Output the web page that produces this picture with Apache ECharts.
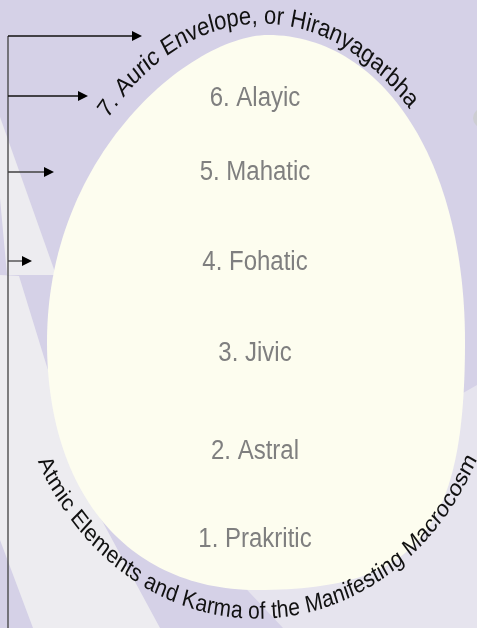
<!DOCTYPE html>
<html>
<head>
<meta charset="utf-8">
<script src="https://cdn.jsdelivr.net/npm/echarts@6/dist/echarts.min.js"></script>
<style>
  html, body { margin: 0; padding: 0; background: #d5d1e7; }
  #canvas { width: 477px; height: 628px; }
</style>
</head>
<body>
<div id="canvas"></div>
<script>
// layers of the egg, top to bottom
const layerLabels = ['6. Alayic', '5. Mahatic', '4. Fohatic', '3. Jivic', '2. Astral', '1. Prakritic'];
const outerLabel = '7. Auric Envelope, or Hiranyagarbha';
const baseLabel = 'Atmic Elements and Karma of the Manifesting Macrocosm';

// layout (pixels)
const S = 1.15; // the slide is stretched vertically
const labelRows = [98, 172, 262, 353, 451, 539];
const arrowRows = [36, 96, 172, 261];
const arrowTips = [142, 88, 54, 32];
const FONT = '"Liberation Sans", Arial, sans-serif';

function cubic(p0, p1, p2, p3, t) {
  const u = 1 - t;
  return [
    u*u*u*p0[0] + 3*u*u*t*p1[0] + 3*u*t*t*p2[0] + t*t*t*p3[0],
    u*u*u*p0[1] + 3*u*u*t*p1[1] + 3*u*t*t*p2[1] + t*t*t*p3[1]
  ];
}

function eggPoints() {
  const segs = [
    [[268, 35], [377, 35], [465, 152], [465, 342]],
    [[465, 342], [465, 532], [417, 590], [257, 590]],
    [[257, 590], [127, 590], [47, 492], [47, 342]],
    [[47, 342], [47, 152], [193, 35], [268, 35]]
  ];
  const pts = [];
  segs.forEach(s => {
    for (let i = 0; i < 60; i++) pts.push(cubic(s[0], s[1], s[2], s[3], i / 60));
  });
  return pts;
}

// letters along an ellipse (unstretched coords, group scales y by S)
function arcText(str, size, cx, cy, rx, ry, th0, th1) {
  const font = size + 'px ' + FONT;
  const ctx = document.createElement('canvas').getContext('2d');
  ctx.font = font;
  const chars = str.split('');
  const widths = chars.map(c => ctx.measureText(c).width);
  const W = widths.reduce((a, b) => a + b, 0);
  const N = 800;
  const ths = [], lens = [0];
  let prev = null;
  for (let i = 0; i <= N; i++) {
    const th = th0 + (th1 - th0) * i / N;
    const p = [cx + rx * Math.cos(th), cy + ry * Math.sin(th)];
    ths.push(th);
    if (prev) lens.push(lens[i - 1] + Math.hypot(p[0] - prev[0], p[1] - prev[1]));
    prev = p;
  }
  const k = lens[N] / W;
  const sign = th1 > th0 ? 1 : -1;
  const off = size * 0.33;
  const out = [];
  let acc = 0, j = 0;
  chars.forEach((c, i) => {
    const s = (acc + widths[i] / 2) * k;
    acc += widths[i];
    while (j < N - 1 && lens[j + 1] < s) j++;
    const f = (s - lens[j]) / (lens[j + 1] - lens[j]);
    const th = ths[j] + (ths[j + 1] - ths[j]) * f;
    let dx = -rx * Math.sin(th) * sign, dy = ry * Math.cos(th) * sign;
    const len = Math.hypot(dx, dy);
    dx /= len; dy /= len;
    const ux = dy, uy = -dx;
    out.push({
      type: 'text',
      x: cx + rx * Math.cos(th) + ux * off,
      y: cy + ry * Math.sin(th) + uy * off,
      rotation: -Math.atan2(dy, dx),
      silent: true,
      style: {
        text: c, font: font, fill: '#111',
        align: 'center', verticalAlign: 'middle',
        textAlign: 'center', textVerticalAlign: 'middle'
      }
    });
  });
  return out;
}

function drawEgg(canvas = 'canvas') {
  const myChart = echarts.init(document.getElementById(canvas));
  const deg = Math.PI / 180;

  const texts = [];
  layerLabels.forEach((t, i) => {
    texts.push({
      type: 'text', x: 255, y: labelRows[i] / S, silent: true,
      style: {
        text: t, font: '24px ' + FONT, fill: '#7f7f7f',
        align: 'center', verticalAlign: 'middle',
        textAlign: 'center', textVerticalAlign: 'middle'
      }
    });
  });
  texts.push(...arcText(outerLabel, 22, 262, 342 / S, 215, 317 / S, -135.5 * deg, -47 * deg));
  texts.push(...arcText(baseLabel, 21, 257, 342 / S, 244, 278 / S, 154.5 * deg, 25 * deg));

  const arrows = [];
  arrows.push({
    type: 'line', silent: true,
    shape: { x1: 8, y1: arrowRows[0], x2: 8, y2: 628 },
    style: { stroke: '#404040', lineWidth: 1.3 }
  });
  arrowRows.forEach((y, i) => {
    const tip = arrowTips[i];
    arrows.push({
      type: 'line', silent: true,
      shape: { x1: 8, y1: y, x2: tip - 8, y2: y },
      style: { stroke: i < 2 ? '#111' : '#404040', lineWidth: 1.3 }
    });
    arrows.push({
      type: 'polygon', silent: true,
      shape: { points: [[tip, y], [tip - 10, y - 5], [tip - 10, y + 5]] },
      style: { fill: '#000' }
    });
  });

  const option = {
    animation: false,
    graphic: [
      { type: 'rect', silent: true, shape: { x: 0, y: 0, width: 477, height: 628 }, style: { fill: '#d5d1e7' } },
      // pale diagonal bands of the slide background
      { type: 'polygon', silent: true, shape: { points: [[0, 117], [56, 275], [0, 275]] }, style: { fill: '#edecf0' } },
      { type: 'polygon', silent: true, shape: { points: [[0, 198], [7, 275], [0, 275]] }, style: { fill: '#d5d1e7' } },
      { type: 'polygon', silent: true, shape: { points: [[0, 275], [19, 276], [47, 367], [100, 517], [160, 628], [0, 628]] }, style: { fill: '#edecf0' } },
      { type: 'polygon', silent: true, shape: { points: [[0, 540], [33, 628], [0, 628]] }, style: { fill: '#d5d1e7' } },
      { type: 'polygon', silent: true, shape: { points: [[283, 628], [250, 593], [200, 540], [330, 420], [463, 393], [477, 385], [477, 628]] }, style: { fill: '#e6e4ee' } },
      { type: 'circle', silent: true, shape: { cx: 483, cy: 118, r: 10 }, style: { fill: '#cdcdd2' } },
      { type: 'polygon', silent: true, shape: { points: eggPoints() }, style: { fill: '#fdfdef' } },
      ...arrows,
      { type: 'group', scaleY: S, children: texts }
    ]
  };
  option && myChart.setOption(option);
}

drawEgg();
</script>
</body>
</html>
